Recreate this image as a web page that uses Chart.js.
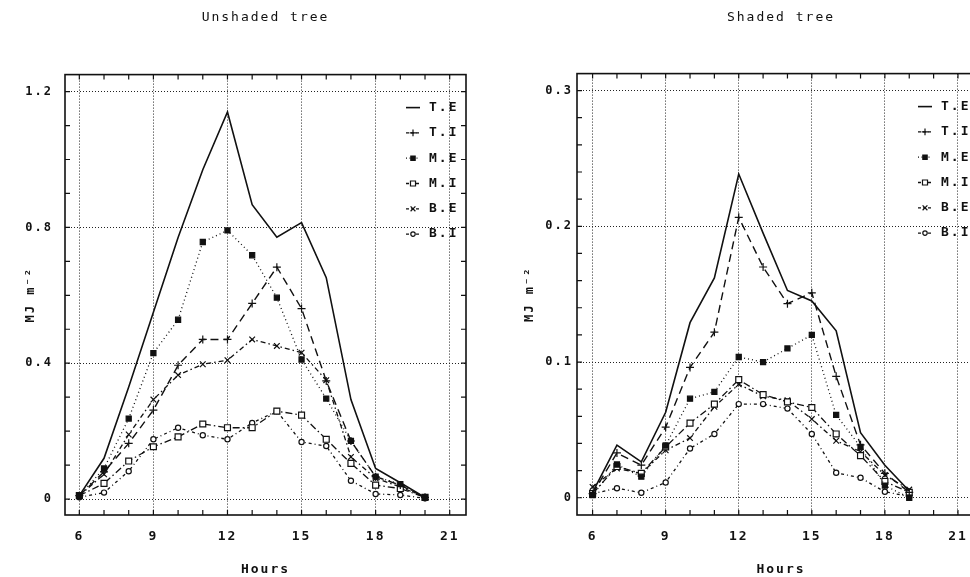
<!DOCTYPE html>
<html>
<head>
<meta charset="utf-8">
<script src="https://cdn.jsdelivr.net/npm/chart.js@4.4.1/dist/chart.umd.min.js"></script>
<style>
  html, body { margin: 0; padding: 0; background: #fff; overflow: hidden; }
  #wrap { position: relative; width: 970px; height: 577px; overflow: hidden; }
  .panel { position: absolute; top: 0; height: 577px; }
  #left { left: 0; width: 490px; }
  #right { left: 490px; width: 520px; }
</style>
</head>
<body>
<div id="wrap">
  <div class="panel" id="left"><canvas id="unshadedChart"></canvas></div>
  <div class="panel" id="right"><canvas id="shadedChart"></canvas></div>
</div>
<script>
// ---- data ----
const seriesNames = ['T.E', 'T.I', 'M.E', 'M.I', 'B.E', 'B.I'];
const xTicks = [6, 9, 12, 15, 18, 21];

// Unshaded tree
const hoursUnshaded = [6, 7, 8, 9, 10, 11, 12, 13, 14, 15, 16, 17, 18, 19, 20];
const unshadedTE = [0.01, 0.12, 0.33, 0.55, 0.77, 0.97, 1.14, 0.867, 0.771, 0.814, 0.652, 0.293, 0.09, 0.048, 0.005];
const unshadedTI = [0.01, 0.08, 0.164, 0.262, 0.394, 0.47, 0.47, 0.576, 0.683, 0.561, 0.348, 0.171, 0.066, 0.041, 0.005];
const unshadedME = [0.01, 0.09, 0.237, 0.43, 0.528, 0.757, 0.791, 0.718, 0.593, 0.411, 0.296, 0.171, 0.066, 0.044, 0.005];
const unshadedMI = [0.01, 0.046, 0.112, 0.154, 0.183, 0.221, 0.21, 0.21, 0.259, 0.247, 0.176, 0.105, 0.041, 0.031, 0.005];
const unshadedBE = [0.01, 0.073, 0.19, 0.293, 0.365, 0.397, 0.409, 0.47, 0.451, 0.431, 0.35, 0.124, 0.061, 0.036, 0.005];
const unshadedBI = [0.005, 0.019, 0.082, 0.176, 0.21, 0.188, 0.176, 0.224, 0.259, 0.168, 0.156, 0.054, 0.015, 0.012, 0.002];
const yTicksUnshaded = [0, 0.4, 0.8, 1.2];

// Shaded tree
const hoursShaded = [6, 7, 8, 9, 10, 11, 12, 13, 14, 15, 16, 17, 18, 19];
const shadedTE = [0.004, 0.0388, 0.0265, 0.063, 0.129, 0.162, 0.2385, 0.195, 0.1527, 0.145, 0.123, 0.048, 0.024, 0.005];
const shadedTI = [0.003, 0.033, 0.024, 0.052, 0.096, 0.122, 0.2066, 0.17, 0.143, 0.151, 0.0895, 0.039, 0.018, 0.004];
const shadedME = [0.002, 0.0245, 0.0155, 0.0385, 0.073, 0.078, 0.1037, 0.1, 0.11, 0.12, 0.061, 0.0375, 0.009, 0.0];
const shadedMI = [0.003, 0.023, 0.018, 0.0375, 0.055, 0.069, 0.087, 0.076, 0.0706, 0.0665, 0.047, 0.031, 0.012, 0.004];
const shadedBE = [0.008, 0.0216, 0.018, 0.035, 0.044, 0.067, 0.0836, 0.0748, 0.0718, 0.058, 0.042, 0.034, 0.0167, 0.006];
const shadedBI = [0.003, 0.007, 0.0037, 0.0113, 0.0363, 0.047, 0.069, 0.069, 0.0657, 0.047, 0.0184, 0.0147, 0.0044, 0.001];
const yTicksShaded = [0, 0.1, 0.2, 0.3];

const INK = '#111';
const FONT = '"DejaVu Sans Mono", "Liberation Mono", monospace';
Chart.defaults.font.family = FONT;
Chart.defaults.color = INK;

// line + marker style per series
const styles = [
  { borderDash: [], borderWidth: 1.6, pointStyle: 'circle', pointRadius: 0, fill: INK },
  { borderDash: [8, 5], borderWidth: 1.4, pointStyle: 'cross', pointRadius: 4, fill: INK },
  { borderDash: [1, 3], borderWidth: 1.3, pointStyle: 'rect', pointRadius: 3.6, fill: INK },
  { borderDash: [7, 3, 1.5, 3], borderWidth: 1.3, pointStyle: 'rect', pointRadius: 4.2, fill: '#fff' },
  { borderDash: [5, 3, 1.5, 3], borderWidth: 1.3, pointStyle: 'crossRot', pointRadius: 4, fill: INK },
  { borderDash: [3, 3, 1, 3], borderWidth: 1.3, pointStyle: 'circle', pointRadius: 2.6, fill: '#fff' }
];

function makeDatasets(hours, seriesList) {
  return seriesList.map((vals, i) => ({
    label: seriesNames[i],
    data: hours.map((h, k) => ({ x: h, y: vals[k] })),
    borderColor: INK,
    borderWidth: styles[i].borderWidth,
    borderDash: styles[i].borderDash,
    pointStyle: styles[i].pointStyle,
    pointRadius: styles[i].pointRadius,
    pointBackgroundColor: styles[i].fill,
    pointBorderColor: INK,
    pointBorderWidth: 1.2,
    tension: 0
  }));
}

// wide plotter-like lettering
const wideText = {
  id: 'wideText',
  beforeLayout(chart) { chart.ctx.letterSpacing = '2px'; },
  beforeDraw(chart) { chart.ctx.letterSpacing = '2px'; }
};

// frame round the plot area with inward ticks on all four sides
const plotFrame = {
  id: 'plotFrame',
  afterDatasetsDraw(chart, args, opts) {
    const { ctx, chartArea: a, scales: { x, y } } = chart;
    ctx.save();
    ctx.strokeStyle = INK;
    ctx.lineWidth = 1.6;
    ctx.strokeRect(a.left, a.top, a.right - a.left, a.bottom - a.top);
    ctx.lineWidth = 1.2;
    ctx.beginPath();
    for (let k = Math.ceil(x.min / opts.xStep); k * opts.xStep <= x.max; k++) {
      const px = x.getPixelForValue(k * opts.xStep);
      ctx.moveTo(px, a.bottom); ctx.lineTo(px, a.bottom - opts.len);
      ctx.moveTo(px, a.top); ctx.lineTo(px, a.top + opts.len);
    }
    for (let k = Math.ceil(y.min / opts.yStep - 1e-6); k * opts.yStep <= y.max + 1e-9; k++) {
      const py = y.getPixelForValue(k * opts.yStep);
      ctx.moveTo(a.left, py); ctx.lineTo(a.left + opts.len, py);
      ctx.moveTo(a.right, py); ctx.lineTo(a.right - opts.len, py);
    }
    ctx.stroke();
    ctx.restore();
  }
};

// legend drawn inside the plot area, top right
const insideLegend = {
  id: 'insideLegend',
  afterDatasetsDraw(chart, args, opts) {
    const { ctx, chartArea: a } = chart;
    ctx.save();
    ctx.font = 'bold 13px ' + FONT;
    ctx.textBaseline = 'middle';
    chart.data.datasets.forEach((ds, i) => {
      const y = a.top + opts.top + i * opts.rowGap;
      const x0 = a.left + opts.left;
      const x1 = x0 + opts.sample;
      ctx.save();
      ctx.strokeStyle = INK;
      ctx.lineWidth = ds.borderWidth;
      ctx.setLineDash(ds.borderDash.length ? [3, 2] : []);
      if (ds.borderDash[0] === 1) ctx.setLineDash([1, 2.5]);
      ctx.beginPath(); ctx.moveTo(x0, y); ctx.lineTo(x1, y); ctx.stroke();
      ctx.restore();
      if (ds.pointRadius > 0 && Chart.helpers && Chart.helpers.drawPoint) {
        ctx.save();
        ctx.fillStyle = ds.pointBackgroundColor;
        ctx.strokeStyle = INK;
        ctx.lineWidth = ds.pointBorderWidth;
        Chart.helpers.drawPoint(ctx, { pointStyle: ds.pointStyle, radius: ds.pointRadius * 0.85, rotation: 0, borderWidth: ds.pointBorderWidth }, (x0 + x1) / 2, y);
        ctx.restore();
      }
      ctx.fillStyle = INK;
      ctx.fillText(ds.label, a.left + opts.textLeft, y);
    });
    ctx.restore();
  }
};

function panelOptions(p) {
  return {
    responsive: true,
    maintainAspectRatio: false,
    animation: false,
    layout: { padding: { left: 0, right: p.padRight, top: 0, bottom: 0 } },
    plugins: {
      legend: { display: false },
      tooltip: { enabled: false },
      title: {
        display: true,
        text: p.title,
        fullSize: false,
        font: { size: 13, weight: 'normal' },
        padding: { top: 10.2, bottom: p.titleGap }
      },
      plotFrame: { xStep: 1, yStep: p.yMinor, len: 5 },
      insideLegend: { left: 341, sample: 14, textLeft: 364, top: 33, rowGap: 25.3 }
    },
    scales: {
      x: {
        type: 'linear',
        min: p.xMin,
        max: p.xMax,
        afterBuildTicks: s => { s.ticks = xTicks.map(v => ({ value: v })); },
        afterFit: s => { s.height = 62; },
        ticks: { font: { size: 13, weight: 'bold' }, padding: 14, maxRotation: 0 },
        grid: { color: '#222', lineWidth: 1, drawTicks: false },
        border: { display: false, dash: [1, 2] },
        title: { display: true, text: 'Hours', font: { size: 13, weight: 'bold' }, padding: { top: 0, bottom: 0 } }
      },
      y: {
        type: 'linear',
        min: p.yMin,
        max: p.yMax,
        afterBuildTicks: s => { s.ticks = p.yTicks.map(v => ({ value: v })); },
        afterFit: s => { s.width = p.yWidth; },
        ticks: {
          font: { size: 12, weight: 'bold' },
          padding: p.yLabelPad,
          callback: v => (v === 0 ? '0' : v.toFixed(1))
        },
        grid: { color: '#222', lineWidth: 1, drawTicks: false },
        border: { display: false, dash: [1, 2] },
        title: { display: true, text: 'MJ m⁻²', font: { size: 12, weight: 'bold' }, padding: { top: p.yTitlePad, bottom: 0 } }
      }
    }
  };
}

new Chart(document.getElementById('unshadedChart'), {
  type: 'line',
  data: { datasets: makeDatasets(hoursUnshaded, [unshadedTE, unshadedTI, unshadedME, unshadedMI, unshadedBE, unshadedBI]) },
  options: panelOptions({
    title: 'Unshaded tree', padRight: 24, titleGap: 48.8,
    xMin: 5.42, xMax: 21.66, yMin: -0.047, yMax: 1.25, yMinor: 0.1,
    yTicks: yTicksUnshaded, yWidth: 65, yLabelPad: 12, yTitlePad: 24
  }),
  plugins: [wideText, plotFrame, insideLegend]
});

new Chart(document.getElementById('shadedChart'), {
  type: 'line',
  data: { datasets: makeDatasets(hoursShaded, [shadedTE, shadedTI, shadedME, shadedMI, shadedBE, shadedBI]) },
  options: panelOptions({
    title: 'Shaded tree', padRight: 25, titleGap: 47.8,
    xMin: 5.36, xMax: 22.11, yMin: -0.0127, yMax: 0.3125, yMinor: 0.02,
    yTicks: yTicksShaded, yWidth: 87, yLabelPad: 4, yTitlePad: 33
  }),
  plugins: [wideText, plotFrame, insideLegend]
});
</script>
</body>
</html>
